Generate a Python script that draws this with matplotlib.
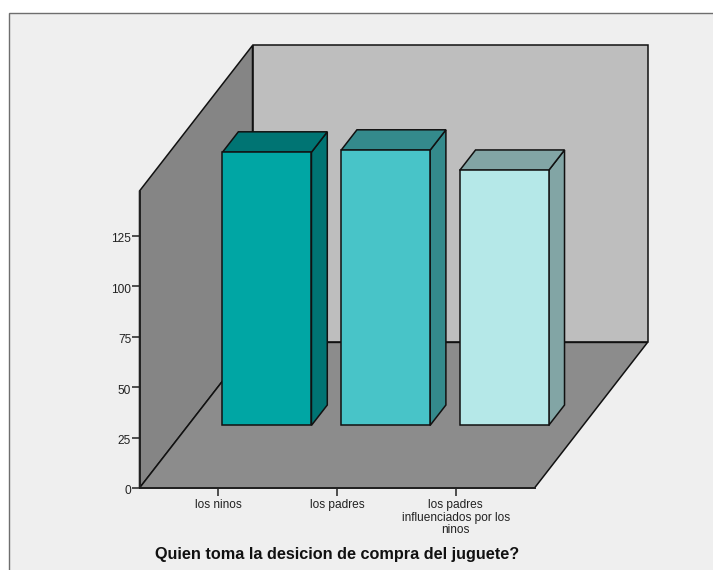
import matplotlib
matplotlib.use("Agg")
import matplotlib.pyplot as plt
from matplotlib.patches import Rectangle
from matplotlib.transforms import ScaledTranslation

plt.rcParams['font.family'] = ['Liberation Sans', 'DejaVu Sans']

categorias = ['los ninos', 'los padres', 'los padres\ninfluenciados por los\nninos']
valores = [135.5, 136.5, 126.5]
y_ticks = [0, 25, 50, 75, 100, 125]

colores_frente = ['#00A6A4', '#48C4C8', '#B5E8E8']
colores_lado = ['#007473', '#348A8C', '#82A5A5']

W, H = 713, 570
fig = plt.figure(figsize=(W / 100, H / 100), dpi=100, facecolor='white')

# panel gris claro detras del grafico
fig.patches.append(Rectangle((9 / W, -0.01), 1.01, 1 - 13 / H + 0.01, transform=fig.transFigure,
                             facecolor='#EFEFEF', edgecolor='#6E6E6E', linewidth=1.0, zorder=-1))

ax = fig.add_axes([139.5 / W, 1 - 488 / H, 395 / W, 297 / H])
ax.patch.set_visible(False)
ax.set_xlim(-0.665, 2.665)
ax.set_ylim(0, 147.3)

x0, x1 = ax.get_xlim()
y0, y1 = ax.get_ylim()

# desplazamiento de la profundidad, en unidades de datos
DX = 113 / 118.6
DY = 72.2


def proy(x, y, d):
    return x + d * DX, y + d * DY


def cara(puntos, color, lw=1.1, z=1):
    xs, ys = zip(*[proy(*p) for p in puntos])
    ax.fill(xs, ys, facecolor=color, edgecolor='#111111', linewidth=lw,
            joinstyle='miter', clip_on=False, zorder=z)


# paredes y piso
cara([(x0, y0, 1), (x1, y0, 1), (x1, y1, 1), (x0, y1, 1)], '#BEBEBE')
cara([(x0, y0, 0), (x0, y1, 0), (x0, y1, 1), (x0, y0, 1)], '#858585')
cara([(x0, y0, 0), (x1, y0, 0), (x1, y0, 1), (x0, y0, 1)], '#8C8C8C')

# barras en 3d
ancho = 0.375
d0, d1 = 0.43, 0.57
for i, v in enumerate(valores):
    a, b = i - ancho, i + ancho
    z = 3 + i
    cara([(b, 0, d0), (b, 0, d1), (b, v, d1), (b, v, d0)], colores_lado[i], z=z)
    cara([(a, v, d0), (b, v, d0), (b, v, d1), (a, v, d1)], colores_lado[i], z=z)
    cara([(a, 0, d0), (b, 0, d0), (b, v, d0), (a, v, d0)], colores_frente[i], z=z)

for lado in ['top', 'right']:
    ax.spines[lado].set_visible(False)
for lado in ['left', 'bottom']:
    ax.spines[lado].set_linewidth(1.4)
    ax.spines[lado].set_color('#222222')
    ax.spines[lado].set_zorder(10)

ax.set_yticks(y_ticks)
ax.set_xticks(range(len(categorias)))
ax.set_xticklabels(categorias, linespacing=1.05)
ax.tick_params(axis='y', length=5.5, width=1.1, pad=0.5, labelsize=8.6, color='#222222', labelcolor='#222222')
ax.tick_params(axis='x', length=5.5, width=1.1, pad=2.5, labelsize=8.6, color='#222222', labelcolor='#222222')

# los numeros del eje y quedan un poco por debajo de su marca
bajar = ScaledTranslation(0, -2 / 100, fig.dpi_scale_trans)
for etiqueta in ax.get_yticklabels():
    etiqueta.set_transform(etiqueta.get_transform() + bajar)

fig.text(337.5 / W, 1 - 555 / H, 'Quien toma la desicion de compra del juguete?', ha='center', va='center',
         fontsize=11.7, fontweight='bold', color='#111111')

fig.savefig('out.png', dpi=100, facecolor=fig.get_facecolor())
